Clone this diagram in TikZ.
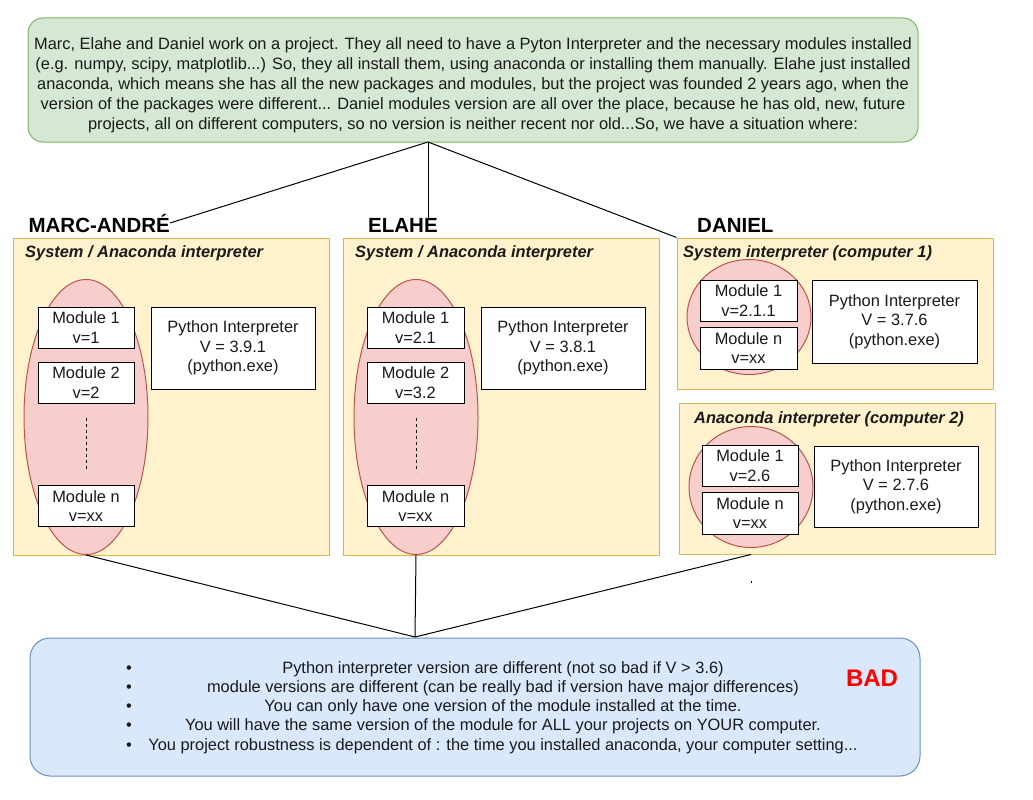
\documentclass[tikz,border=0pt]{standalone}
\usepackage{fontspec}
\setmainfont{Liberation Sans}
\usetikzlibrary{shapes.geometric}
\definecolor{gfill}{HTML}{D5E8D4}
\definecolor{gline}{HTML}{82B366}
\definecolor{yfill}{HTML}{FFF2CC}
\definecolor{yline}{HTML}{D6B656}
\definecolor{rfill}{HTML}{F8CECC}
\definecolor{rline}{HTML}{B85450}
\definecolor{bfill}{HTML}{DAE8FC}
\definecolor{bline}{HTML}{6C8EBF}
\definecolor{txt}{HTML}{1A1A1A}
\begin{document}
\begin{tikzpicture}[x=1pt,y=-1pt,
  every node/.style={font=\fontsize{16.4}{19.3}\selectfont, text=txt},
  container/.style={rectangle, draw=yline, fill=yfill, line width=1pt, inner sep=0pt},
  modell/.style={ellipse, draw=rline, fill=rfill, line width=1pt, inner sep=0pt, minimum width=124pt},
  modbox/.style={rectangle, draw=black, fill=white, line width=1pt, align=center, inner sep=0pt, minimum height=41pt},
  interp/.style={rectangle, draw=black, fill=white, line width=1pt, align=center, inner sep=0pt, minimum width=164pt, minimum height=82pt},
  ctitle/.style={anchor=base west, inner sep=0pt, font=\fontsize{16.4}{19}\selectfont\bfseries\itshape},
  person/.style={inner sep=0pt, font=\fontsize{20.5}{24}\selectfont\bfseries, text=black},
  conn/.style={draw=black, line width=1pt},
  dots/.style={draw=black, line width=1pt, dash pattern=on 3pt off 3pt},
  bline/.style={anchor=base, inner sep=0pt},
  bullet/.style={anchor=base, inner sep=0pt}
]
\useasboundingbox (0,0) rectangle (1033,800);

% top description
\node[rectangle, rounded corners=15pt, draw=gline, fill=gfill, line width=1pt,
  minimum width=890pt, minimum height=124pt] (top) at (473,80) {};
\node[align=center, inner sep=0pt, font=\fontsize{16.4}{20}\selectfont] (toptext) at (473,85)
 {Marc, Elahe and Daniel work on a project. They all need to have a Pyton Interpreter and the necessary modules installed\\
 (e.g. numpy, scipy, matplotlib...) So, they all install them, using anaconda or installing them manually. Elahe just installed\\
 anaconda, which means she has all the new packages and modules, but the project was founded 2 years ago, when the\\
 version of the packages were different... Daniel modules version are all over the place, because he has old, new, future\\
 projects, all on different computers, so no version is neither recent nor old...So, we have a situation where:};
\coordinate (apex) at (428,142);

% person labels
\node[person, anchor=base east] (marc) at (170,232) {MARC-ANDRÉ};
\node[person, anchor=base west] (elahe) at (368,232) {ELAHE};
\node[person, anchor=base west] (daniel) at (697,232) {DANIEL};

% containers
\node[container, minimum width=316pt, minimum height=317pt] (mbox) at (171,396.5) {};
\node[container, minimum width=316pt, minimum height=317pt] (ebox) at (501,396.5) {};
\node[container, minimum width=316pt, minimum height=151pt] (d1box) at (835,313.5) {};
\node[container, minimum width=316pt, minimum height=151pt] (d2box) at (837,478.5) {};

\node[ctitle] (mtitle) at (25,257) {System / Anaconda interpreter};
\node[ctitle] (etitle) at (355,257) {System / Anaconda interpreter};
\node[ctitle] (d1title) at (683,257) {System interpreter (computer 1)};
\node[ctitle] (d2title) at (694,423) {Anaconda interpreter (computer 2)};

% module groups
\node[modell, minimum height=275pt] (mell) at (86,417) {};
\node[modell, minimum height=275pt] (eell) at (416,417) {};
\node[modell, minimum height=115pt] (d1ell) at (749,317) {};
\node[modell, minimum height=121pt] (d2ell) at (751,487) {};

% Marc modules
\node[modbox, minimum width=96pt] (m1) at (86,327.5) {Module 1\\v=1};
\node[modbox, minimum width=96pt] (m2) at (86,382.5) {Module 2\\v=2};
\node[modbox, minimum width=96pt] (mn) at (86,506) {Module n\\v=xx};
\draw[dots] (86,418) -- (86,472);
\node[interp] (mint) at (233,348) {Python Interpreter\\V = 3.9.1\\(python.exe)};

% Elahe modules
\node[modbox, minimum width=97pt] (e1) at (415.5,327.5) {Module 1\\v=2.1};
\node[modbox, minimum width=97pt] (e2) at (415.5,382.5) {Module 2\\v=3.2};
\node[modbox, minimum width=97pt] (en) at (415.5,506) {Module n\\v=xx};
\draw[dots] (416,418) -- (416,472);
\node[interp] (eint) at (563,348) {Python Interpreter\\V = 3.8.1\\(python.exe)};

% Daniel computer 1
\node[modbox, minimum width=97pt] (d11) at (748.5,300.5) {Module 1\\v=2.1.1};
\node[modbox, minimum width=97pt, minimum height=42pt] (d1n) at (748.5,348) {Module n\\v=xx};
\node[interp, minimum width=165pt, minimum height=83pt] (d1int) at (894.5,321.5) {Python Interpreter\\V = 3.7.6\\(python.exe)};

% Daniel computer 2
\node[modbox, minimum width=96pt] (d21) at (750,465.5) {Module 1\\v=2.6};
\node[modbox, minimum width=96pt, minimum height=42pt] (d2n) at (750,513) {Module n\\v=xx};
\node[interp, minimum height=81pt] (d2int) at (896,486.5) {Python Interpreter\\V = 2.7.6\\(python.exe)};

% top connectors
\draw[conn] (apex) -- (marc.east);
\draw[conn] (apex) -- (apex |- elahe.north);
\draw[conn] (apex) -- (d1box.north west);

% bottom box
\node[rectangle, rounded corners=20pt, draw=bline, fill=bfill, line width=1pt,
  minimum width=890pt, minimum height=138pt] (bottom) at (475,707) {};
\coordinate (bapex) at (415,637);
\draw[conn] (mell.south) -- (bapex);
\draw[conn] (eell.south) -- (bapex);
\draw[conn] (d2ell |- d2box.south) -- (bapex);
\fill[black] (750.5,581) rectangle (751.5,583);

\node[bullet] (u1) at (129,673) {•};
\node[bullet] (u2) at (129,692.3) {•};
\node[bullet] (u3) at (129,711.6) {•};
\node[bullet] (u4) at (129,730.9) {•};
\node[bullet] (u5) at (129,750.2) {•};
\node[bline] (l1) at (503,673) {Python interpreter version are different (not so bad if V {\textgreater} 3.6)};
\node[bline] (l2) at (503,692.3) {module versions are different (can be really bad if version have major differences)};
\node[bline] (l3) at (503,711.6) {You can only have one version of the module installed at the time.};
\node[bline] (l4) at (503,730.9) {You will have the same version of the module for ALL your projects on YOUR computer.};
\node[bline] (l5) at (503,750.2) {You project robustness is dependent of : the time you installed anaconda, your computer setting...};
\node[anchor=base, inner sep=0pt, font=\fontsize{24}{28}\selectfont\bfseries, text=red] (bad) at (872,686.5) {BAD};
\end{tikzpicture}
\end{document}
